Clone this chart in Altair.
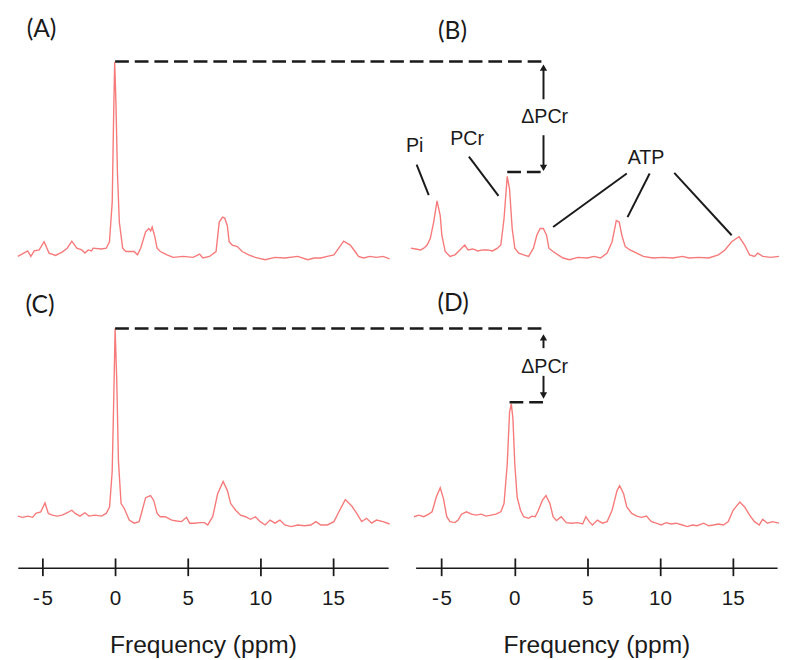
import altair as alt
import pandas as pd

# ---------------- data ----------------
A_ppm = [-6.7, -6.02, -5.8, -5.57, -5.23, -4.89, -4.55, -4.1, -3.65, -3.3, -2.98, -2.64, -2.3, -2.08,
         -1.85, -1.62, -1.51, -0.95, -0.61, -0.39, -0.2, -0.1, -0.03, 0.06, 0.16, 0.29, 0.52, 0.74,
         1.31, 1.54, 1.76, 2.1, 2.32, 2.45, 2.55, 2.71, 2.89, 3.11, 3.34, 3.57, 4.0, 4.69, 5.37, 5.82,
         6.04, 6.5, 6.95, 7.17, 7.4, 7.55, 7.73, 7.85, 8.07, 8.41, 8.75, 9.2, 9.65, 10.33, 11.0, 11.69,
         12.58, 13.26, 13.72, 14.16, 14.61, 15.07, 15.4, 15.74, 16.19, 16.53, 16.76, 17.1, 17.54,
         17.99, 18.45, 18.9]
A_int = [2.5, 5.3, 2.5, 5.3, 5.8, 10, 4.2, 3, 4.7, 6.7, 10.3, 6.7, 5.8, 4.2,
         5.8, 5.3, 6.7, 6.3, 6.7, 10, 30, 75, 101.5, 80, 45, 20, 6.7, 5,
         5, 3.3, 6.7, 15, 16.7, 15.5, 17.5, 13.3, 6.7, 5, 4.2, 3.3, 2, 2.5, 2, 3.7,
         1.7, 2.5, 5, 20, 22.5, 22, 18, 10, 8.3, 7.5, 5, 3.3, 2, 0.8, 2, 1.7,
         2.5, 0.8, 1.7, 1.7, 2.5, 3.3, 6.7, 10.3, 8.3, 5, 2.5, 1.7, 2.5,
         2, 2.5, 1.3]

B_ppm = [-7.11, -6.78, -6.44, -6.22, -5.99, -5.77, -5.54, -5.31, -5.09, -4.98, -4.75, -4.42, -4.08,
         -3.74, -3.41, -3.18, -2.85, -2.51, -2.17, -1.83, -1.5, -1.16, -0.93, -0.71, -0.49, -0.33,
         -0.15, 0.03, 0.3, 0.64, 0.98, 1.31, 1.54, 1.77, 1.99, 2.21, 2.37, 2.66, 3.0, 3.34, 3.79,
         4.35, 5.02, 5.47, 5.92, 6.37, 6.71, 7.0, 7.2, 7.38, 7.61, 7.94, 8.4, 8.85, 9.52, 10.2,
         10.87, 11.55, 11.99, 12.66, 13.34, 14.01, 14.46, 14.92, 15.43, 15.81, 16.15, 16.49,
         16.71, 17.05, 17.61, 18.17]
B_int = [6.7, 6.3, 5.8, 6.7, 8.3, 11.7, 20, 30.8, 23.3, 13.3, 5, 2.5, 3.3,
         5.8, 8.3, 5.8, 6.3, 5.3, 5.8, 5.8, 5.3, 6.7, 8.3, 21.7, 43.3, 36.7,
         16.7, 6.7, 4.2, 3.3, 2.5, 6.7, 13.3, 16.7, 16.7, 13.3, 6.7, 5, 3.3, 1.7, 0.8,
         2, 1.7, 2.5, 1.7, 4.2, 10, 20.8, 20, 13.3, 7.5, 5.8, 4.2, 2.5, 1.7, 2,
         1.7, 2.5, 1.7, 2, 1.7, 3.3, 5.8, 10, 12.5, 8.3, 3.3, 2.5,
         4.2, 2.5, 2, 2.5]

C_ppm = [-6.7, -6.36, -6.02, -5.68, -5.46, -5.12, -4.83, -4.6, -4.33, -3.99, -3.65, -3.32, -2.98,
         -2.75, -2.42, -2.08, -1.8, -1.4, -0.95, -0.61, -0.38, -0.2, -0.09, 0.0, 0.11, 0.23, 0.41,
         0.63, 0.97, 1.31, 1.65, 1.87, 2.1, 2.44, 2.66, 2.89, 3.11, 3.45, 3.67, 3.9, 4.24, 4.58,
         4.92, 5.14, 5.48, 5.82, 6.16, 6.38, 6.72, 7.06, 7.44, 7.73, 7.96, 8.3, 8.64, 8.98, 9.32,
         9.66, 9.99, 10.33, 10.67, 11.01, 11.35, 11.69, 12.13, 12.58, 13.04, 13.48, 13.82, 14.16,
         14.61, 15.07, 15.41, 15.85, 16.31, 16.64, 16.98, 17.32, 17.66, 18.0, 18.45, 18.9]
C_int = [2.8, 2.2, 2.8, 2.2, 4.2, 5, 9.5, 4.2, 3.3, 2.8, 3.3, 4.5, 5.8,
         4.2, 2.8, 4.5, 2.8, 3.3, 2.8, 4.2, 7.5, 25.8, 64.2, 98.3, 72.5, 30.8, 9.2,
         6.7, 0.8, -0.8, 0, 5.8, 12.2, 13.3, 10.8, 4.2, 2.5, 2.5, 1.7, 0.8, 0.3, 0,
         2.2, -0.8, -0.8, -0.5, -0.5, -1.7, 2.5, 14.2, 20.5, 15.8, 9.2, 5.8, 3.3, 2.5, 1.2,
         2.5, 0, -1.7, 0.8, -0.8, 0.8, -1.7, -2.5, -1.7, -2.1, -1.7, 0, -1.7,
         -1.7, 0, 5, 11.2, 7.8, 4.2, 0, 1.7, -0.8, 0.8, 0, -1.2]

D_ppm = [-6.89, -6.55, -6.22, -5.88, -5.65, -5.36, -5.09, -4.87, -4.64, -4.42, -4.08, -3.86, -3.63,
         -3.29, -2.95, -2.62, -2.28, -1.94, -1.6, -1.27, -0.93, -0.71, -0.49, -0.33, -0.21, -0.1,
         0.03, 0.19, 0.42, 0.64, 0.98, 1.2, 1.43, 1.65, 1.92, 2.17, 2.44, 2.66, 2.89, 3.22, 3.56,
         3.9, 4.35, 4.69, 4.91, 5.14, 5.36, 5.7, 6.04, 6.37, 6.71, 7.05, 7.23, 7.5, 7.72, 8.06,
         8.4, 8.73, 9.07, 9.41, 9.74, 10.08, 10.42, 10.76, 11.09, 11.54, 11.88, 12.22, 12.55, 13.0,
         13.34, 13.68, 14.01, 14.35, 14.69, 15.02, 15.48, 15.81, 16.15, 16.49, 16.82, 17.05,
         17.38, 17.72, 18.17]
D_int = [2.5, 3.3, 2.5, 3.8, 5, 12.5, 17.2, 11.7, 2.5, 0, -0.5, 0.8, 3.8,
         5, 3.8, 3.3, 3.8, 2.8, 3.3, 3.8, 5, 9.2, 29.2, 55.8, 60, 52.5,
         29.2, 12.5, 5.8, 2.5, 1.7, 2.8, 2.5, 5.8, 10.8, 13.3, 9.2, 2.5, 0.5, 2.5, -0.5,
         -0.8, -0.5, -1.2, 2.5, 0, -1.7, 0.8, -0.8, 0, 5.8, 15.8, 18.3, 14.2, 7.5, 4.2,
         2.8, 2.2, 2.8, 0, -0.8, -1.7, -0.5, -1.2, -0.8, -1.7, -2.5, -1.7, -2.1, -0.8,
         -2.1, -1.7, -1.2, -1.7, 0, 5.8, 10, 7.5, 3.3, 0, -1.7, 1.2,
         -0.8, 0, -0.8]

TICKS = [-5, 0, 5, 10, 15]
AXIS_TITLE = "Frequency (ppm)"

# peak labels in panel B
PEAK_LABELS = ["Pi", "PCr", "ATP"]
PEAK_LABEL_X = [-6.84, -3.24, 9.04]
PEAK_LABEL_Y = [58.5, 62, 52.5]
# leader lines in panel B
LEAD_X1 = [-6.71, -3.12, 7.72, 9.29, 10.98]
LEAD_Y1 = [49.2, 53.3, 44.7, 44.7, 45.0]
LEAD_X2 = [-5.88, -1.09, 2.66, 7.77, 14.92]
LEAD_Y2 = [33.7, 33.3, 17.5, 22.5, 13.3]

# ---------------- styling ----------------
RED = "#f77a7a"
INK = "#1a1a1a"
FONT = "Liberation Sans"

LEFT_DOM = [-6.7, 18.8]
RIGHT_DOM = [-6.78, 18.04]
TOP_YDOM = [-5, 125]
BOT_YDOM = [-23.5, 121.5]
LEFT_W, RIGHT_W = 377, 368
TOP_H, BOT_H = 260, 290


def sc(dom):
    return alt.Scale(domain=dom, nice=False, zero=False)


def spectrum(ppm, inten, xs, ys, axis=None):
    df = pd.DataFrame({"x": ppm, "y": inten})
    return alt.Chart(df).mark_line(color=RED, strokeWidth=1.4).encode(
        x=alt.X("x:Q", scale=xs, axis=axis),
        y=alt.Y("y:Q", scale=ys, axis=None),
    )


def hrule(x1, x2, yv, xs, ys, dash=(14, 6)):
    df = pd.DataFrame({"x": [x1], "x2": [x2], "y": [yv]})
    return alt.Chart(df).mark_rule(color=INK, strokeWidth=2.5, strokeDash=list(dash)).encode(
        x=alt.X("x:Q", scale=xs, axis=None), x2="x2:Q",
        y=alt.Y("y:Q", scale=ys, axis=None),
    )


def segs(x1, y1, x2, y2, xs, ys, width=2):
    df = pd.DataFrame({"x": x1, "y": y1, "x2": x2, "y2": y2})
    return alt.Chart(df).mark_rule(color=INK, strokeWidth=width).encode(
        x=alt.X("x:Q", scale=xs, axis=None), x2="x2:Q",
        y=alt.Y("y:Q", scale=ys, axis=None), y2="y2:Q",
    )


def texts(labels, xv, yv, xs, ys, size=20, font=FONT):
    df = pd.DataFrame({"x": xv, "y": yv, "t": labels})
    return alt.Chart(df).mark_text(font=font, fontSize=size, color=INK,
                                   align="center", baseline="middle").encode(
        x=alt.X("x:Q", scale=xs, axis=None),
        y=alt.Y("y:Q", scale=ys, axis=None),
        text="t:N",
    )


def heads(xv, yv, shapes, xs, ys):
    df = pd.DataFrame({"x": xv, "y": yv, "s": shapes})
    return alt.Chart(df).mark_point(filled=True, color=INK, size=55, opacity=1).encode(
        x=alt.X("x:Q", scale=xs, axis=None),
        y=alt.Y("y:Q", scale=ys, axis=None),
        shape=alt.Shape("s:N", scale=None),
    )


main_axis = alt.Axis(
    orient="bottom", values=TICKS, grid=False,
    domain=True, domainColor=INK, domainWidth=1.5,
    ticks=True, tickSize=8, tickWidth=1.8, tickColor=INK,
    labelFont=FONT, labelFontSize=21, labelColor=INK, labelPadding=12,
    labelExpr="datum.value < 0 ? '-\u200a' + abs(datum.value) : datum.label",
    title=AXIS_TITLE, titleFont=FONT, titleFontSize=25, titleFontWeight="normal",
    titleColor=INK, titlePadding=25,
)
tick_axis = alt.Axis(
    orient="bottom", values=TICKS, grid=False, offset=-10,
    domain=False, labels=False, ticks=True, tickSize=10, tickWidth=1.8,
    tickColor=INK, title=None,
)


def tick_layer(xs, ys):
    df = pd.DataFrame({"x": TICKS})
    return alt.Chart(df).mark_rule(opacity=0).encode(
        x=alt.X("x:Q", scale=xs, axis=tick_axis),
    )


# ---------------- panel A ----------------
xa, ya = sc(LEFT_DOM), sc(TOP_YDOM)
panelA = alt.layer(
    spectrum(A_ppm, A_int, xa, ya),
    hrule(0, 29.52, 101.7, xa, ya),
    texts(["(A)"], [-5.07], [118], xa, ya, size=25, font="Lato"),
).properties(width=LEFT_W, height=TOP_H)

# ---------------- panel B ----------------
xb, yb = sc(RIGHT_DOM), sc(TOP_YDOM)
panelB = alt.layer(
    spectrum(B_ppm, B_int, xb, yb),
    segs(LEAD_X1, LEAD_Y1, LEAD_X2, LEAD_Y2, xb, yb),
    texts(PEAK_LABELS, PEAK_LABEL_X, PEAK_LABEL_Y, xb, yb),
    texts(["\u0394PCr"], [2.08], [73.5], xb, yb),
    segs([2.0, 2.0], [98.0, 64.2], [2.0, 2.0], [82.5, 48.5], xb, yb, width=2),
    heads([2.0, 2.0], [98.6, 47.6], ["triangle-up", "triangle-down"], xb, yb),
    hrule(-0.49, 2.0, 45.5, xb, yb),
    texts(["(B)"], [-4.25], [117], xb, yb, size=25, font="Lato"),
).properties(width=RIGHT_W, height=TOP_H)

# ---------------- panel C ----------------
xc, yc = sc(LEFT_DOM), sc(BOT_YDOM)
panelC = alt.layer(
    spectrum(C_ppm, C_int, xc, yc, axis=main_axis),
    tick_layer(xc, yc),
    hrule(0, 29.52, 98.3, xc, yc),
    texts(["(C)"], [-5.17], [110], xc, yc, size=25, font="Lato"),
).resolve_axis(x="independent").properties(width=LEFT_W, height=BOT_H)

# ---------------- panel D ----------------
xd, yd = sc(RIGHT_DOM), sc(BOT_YDOM)
panelD = alt.layer(
    spectrum(D_ppm, D_int, xd, yd, axis=main_axis),
    tick_layer(xd, yd),
    texts(["\u0394PCr"], [2.08], [78.7], xd, yd),
    segs([2.0, 2.0], [93.5, 74.2], [2.0, 2.0], [88.3, 65.0], xd, yd, width=2),
    heads([2.0, 2.0], [93.8, 64.2], ["triangle-up", "triangle-down"], xd, yd),
    hrule(-0.33, 2.0, 60.8, xd, yd),
    texts(["(D)"], [-4.21], [111], xd, yd, size=25, font="Lato"),
).resolve_axis(x="independent").properties(width=RIGHT_W, height=BOT_H)

chart = alt.concat(
    panelA, panelB, panelC, panelD,
    columns=2, spacing={"row": 12, "column": 28}, bounds="flush",
).properties(
    padding={"left": 7, "top": 2, "right": 0, "bottom": 0},
    background="white",
).configure_view(strokeWidth=0)

chart.save("out.html", embed_options={"renderer": "svg", "actions": False})
